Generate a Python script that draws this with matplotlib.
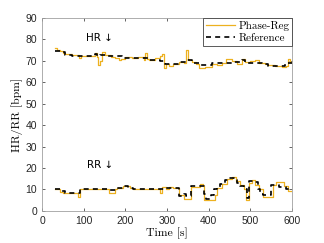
import matplotlib
matplotlib.use('Agg')
import matplotlib.pyplot as plt
import numpy as np

# step edges (s) and values (bpm)
hr_ref_t = [30, 43, 55, 71, 127, 133, 139, 155, 192, 216, 248, 256, 284, 296, 328,
            348, 360, 376, 407, 439, 455, 479, 487, 511, 527, 543, 583, 600]
hr_ref_v = [74.8, 74.0, 72.8, 72.3, 73.0, 72.3, 72.8, 72.1, 71.2, 71.4, 71.2, 70.6,
            70.0, 68.6, 69.4, 70.6, 68.8, 68.3, 68.8, 69.2, 69.5, 70.2, 69.2, 68.9,
            68.6, 67.8, 69.0, 69.0]

hr_ph_t = [30, 36, 43, 50, 55, 71, 88, 93, 127, 131, 135, 140, 145, 150, 165, 175,
           185, 190, 200, 216, 230, 245, 248, 252, 256, 270, 284, 288, 292, 297, 305,
           315, 328, 340, 346, 350, 360, 370, 376, 392, 407, 420, 432, 442, 455, 468,
           479, 487, 500, 511, 520, 535, 543, 560, 575, 585, 590, 596, 600]
hr_ph_v = [76.0, 75.0, 74.5, 73.5, 73.0, 72.5, 71.4, 72.3, 73.5, 72.0, 68.0, 70.0,
           74.0, 72.6, 72.0, 71.5, 70.5, 71.0, 71.8, 71.2, 72.0, 70.5, 73.8, 71.0,
           70.4, 71.5, 72.3, 73.2, 66.5, 68.5, 67.5, 68.5, 69.5, 69.0, 75.0, 70.6,
           69.5, 68.5, 66.5, 67.0, 68.6, 68.0, 69.0, 71.0, 70.0, 68.5, 70.8, 69.5,
           70.0, 70.5, 69.0, 68.5, 68.0, 67.5, 67.0, 67.5, 71.0, 69.5, 69.5]

rr_ref_t = [30, 43, 55, 91, 155, 179, 195, 207, 219, 283, 297, 328, 340, 345, 358,
            388, 393, 405, 412, 420, 428, 440, 450, 460, 468, 476, 484, 492, 498, 508,
            518, 524, 530, 550, 570, 585, 600]
rr_ref_v = [10.1, 9.4, 8.3, 10.1, 9.8, 10.6, 11.4, 10.9, 10.1, 10.4, 10.5, 7.0, 7.8,
            7.0, 11.5, 8.0, 5.5, 7.5, 10.0, 11.0, 12.5, 14.5, 15.5, 14.5, 13.0, 11.5,
            10.0, 6.0, 14.0, 13.5, 10.0, 8.0, 7.5, 12.0, 11.0, 10.0, 10.0]

rr_ph_t = [30, 43, 50, 87, 91, 160, 175, 179, 195, 210, 219, 283, 288, 297, 305, 315,
           328, 340, 358, 380, 386, 390, 415, 420, 432, 445, 455, 465, 475, 485, 490,
           498, 504, 512, 520, 530, 555, 562, 580, 590, 600]
rr_ph_v = [10.1, 9.0, 8.3, 6.7, 10.1, 8.3, 10.0, 10.6, 11.8, 10.9, 10.1, 8.5, 11.0,
           10.0, 11.0, 10.5, 7.5, 5.5, 11.0, 12.5, 11.5, 5.0, 7.5, 10.5, 12.5, 15.0,
           16.0, 14.0, 12.0, 10.0, 5.0, 13.0, 14.5, 12.0, 10.0, 6.5, 12.0, 13.5, 11.5,
           9.5, 9.5]

orange = '#EDB120'
grey = '#262626'
serif = 'cmr10'
sans = ['Liberation Sans', 'DejaVu Sans']

fig = plt.figure(figsize=(3.24, 2.43), dpi=100)
ax = fig.add_axes([0.13, 0.132, 0.771, 0.794])

ax.step(hr_ph_t, hr_ph_v, where='post', color=orange, lw=0.9, label='Phase-Reg')
ax.step(rr_ph_t, rr_ph_v, where='post', color=orange, lw=0.9)
ax.step(hr_ref_t, hr_ref_v, where='post', color='k', lw=1.2, ls=(0, (3, 2.5)), label='Reference')
ax.step(rr_ref_t, rr_ref_v, where='post', color='k', lw=1.2, ls=(0, (3, 2.5)))

# DejaVu has the bigger arrow glyph, closer to the original
ax.text(137, 80.5, 'HR \u2193', fontsize=7.5, ha='center', va='center', color='k', family='DejaVu Sans')
ax.text(139, 21.5, 'RR \u2193', fontsize=7.5, ha='center', va='center', color='k', family='DejaVu Sans')

ax.set_xlim(0, 600)
ax.set_ylim(0, 90)
ax.set_xticks(np.arange(0, 601, 100))
ax.set_yticks(np.arange(0, 91, 10))
ax.tick_params(direction='in', top=True, right=True, labelsize=7.5, colors=grey,
               length=2.5, width=0.5)
for lab in ax.get_xticklabels() + ax.get_yticklabels():
    lab.set_family(sans)
for s in ax.spines.values():
    s.set_color('#a0a0a0')
    s.set_linewidth(0.6)

ax.set_xlabel('Time [s]', fontfamily=serif, fontsize=8.5, labelpad=1)
ax.set_ylabel('HR/RR [bpm]', fontfamily=serif, fontsize=8.5, labelpad=2)

leg = ax.legend(loc='upper right', prop={'family': serif, 'size': 8}, fancybox=False,
                framealpha=1, borderaxespad=0, handlelength=2.6, borderpad=0.25,
                labelspacing=0.2, handletextpad=0.3)
leg.get_frame().set_edgecolor('#404040')
leg.get_frame().set_linewidth(0.6)

fig.savefig('out.png', dpi=100)
